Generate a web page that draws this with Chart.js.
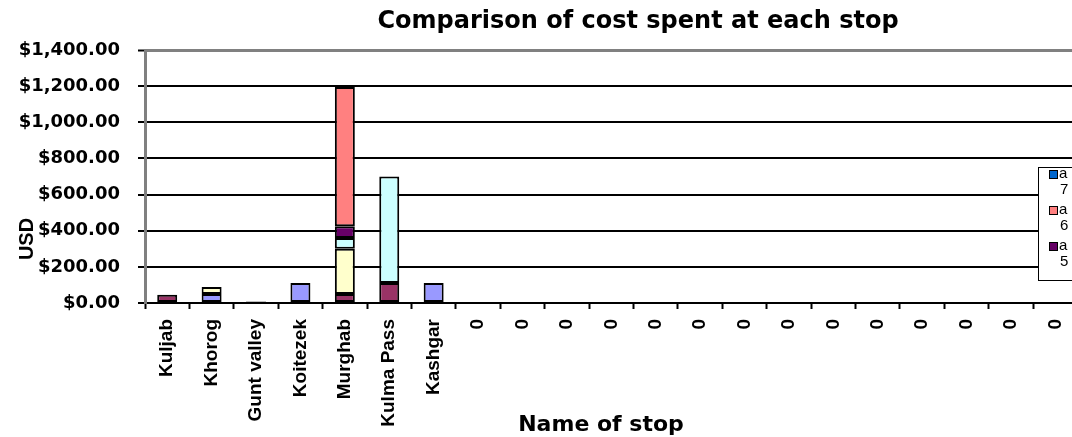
<!DOCTYPE html>
<html>
<head>
<meta charset="utf-8">
<script src="https://cdn.jsdelivr.net/npm/chart.js@4.4.1/dist/chart.umd.min.js"></script>
<style>
  html, body { margin: 0; padding: 0; background: #fff; overflow: hidden; }
  #costChart { display: block; }
</style>
</head>
<body>
<canvas id="costChart" width="1140" height="437"></canvas>
<script>
// Stops on the route; the empty rows of the sheet come through as "0"
const stops = ['Kuljab', 'Khorog', 'Gunt valley', 'Koitezek', 'Murghab', 'Kulma Pass', 'Kashgar',
  '0', '0', '0', '0', '0', '0', '0', '0', '0', '0', '0', '0', '0', '0', '0'];

const n = null;
// cost per category (USD), one array per series, stacked bottom to top
const series1 = [n, 50, n, 110, n, n, 110, n, n, n, n, n, n, n, n, n, n, n, n, n, n, n];
const series2 = [45, n, 8, n, 50, 110, n, n, n, n, n, n, n, n, n, n, n, n, n, n, n, n];
const series3 = [n, 38, n, n, 250, n, n, n, n, n, n, n, n, n, n, n, n, n, n, n, n, n];
const series4 = [n, n, n, n, 60, 590, n, n, n, n, n, n, n, n, n, n, n, n, n, n, n, n];
const series5 = [n, n, n, n, 65, n, n, n, n, n, n, n, n, n, n, n, n, n, n, n, n, n];
const series6 = [n, n, n, n, 770, n, n, n, n, n, n, n, n, n, n, n, n, n, n, n, n, n];
const series7 = [n, n, n, n, n, n, n, n, n, n, n, n, n, n, n, n, n, n, n, n, n, n];

const seriesNames = ['a 1', 'a 2', 'a 3', 'a 4', 'a 5', 'a 6', 'a 7'];
const yTicks = [0, 200, 400, 600, 800, 1000, 1200, 1400];

const chartTitle = 'Comparison of cost spent at each stop';
const xTitle = 'Name of stop';
const yTitle = 'USD';

// classic spreadsheet fill palette
const seriesColors = ['#9999FF', '#993366', '#FFFFCC', '#CCFFFF', '#660066', '#FF8080', '#0066CC'];

const seriesValues = [series1, series2, series3, series4, series5, series6, series7];
const datasets = seriesValues.map((vals, i) => ({
  label: seriesNames[i],
  data: vals,
  backgroundColor: seriesColors[i],
  borderColor: '#000',
  borderWidth: 2,
  borderSkipped: false,
  barPercentage: 0.45,
  categoryPercentage: 1
}));

const money = v => '$' + v.toLocaleString('en-US', { minimumFractionDigits: 2, maximumFractionDigits: 2 });

// titles and the legend box are painted over the plot
const overlay = {
  id: 'overlay',
  afterDraw(chart) {
    const ctx = chart.ctx;
    ctx.save();
    ctx.fillStyle = '#000';
    ctx.textAlign = 'center';
    ctx.textBaseline = 'middle';
    ctx.font = 'bold 24px "DejaVu Sans"';
    ctx.fillText(chartTitle, 638, 22);
    ctx.font = 'bold 22px "DejaVu Sans"';
    ctx.fillText(xTitle, 601, 425);
    ctx.save();
    ctx.translate(27, 239);
    ctx.rotate(-Math.PI / 2);
    ctx.font = 'bold 20px "Liberation Sans"';
    ctx.fillText(yTitle, 0, 0);
    ctx.restore();

    // legend, newest series first; only the rows that fit the box
    const lx = 1038, ly = 167, lw = 90, lh = 113;
    ctx.fillStyle = '#fff';
    ctx.fillRect(lx, ly, lw, lh);
    ctx.strokeStyle = '#000';
    ctx.lineWidth = 1;
    ctx.strokeRect(lx + 0.5, ly + 0.5, lw, lh);
    ctx.textAlign = 'left';
    ctx.font = '15px "Liberation Sans"';
    const rows = chart.data.datasets.slice().reverse().slice(0, 3);
    rows.forEach((ds, i) => {
      const cy = ly + 7 + i * 36;
      ctx.fillStyle = ds.backgroundColor;
      ctx.fillRect(lx + 11, cy - 4, 8, 8);
      ctx.strokeRect(lx + 11.5, cy - 3.5, 8, 8);
      ctx.fillStyle = '#000';
      const parts = ds.label.split(' ');
      ctx.fillText(parts[0], lx + 21, cy);
      ctx.fillText(parts[1], lx + 22, cy + 16);
    });
    ctx.restore();
  }
};

new Chart(document.getElementById('costChart'), {
  type: 'bar',
  data: { labels: stops, datasets: datasets },
  plugins: [overlay],
  options: {
    responsive: false,
    animation: false,
    layout: { padding: { top: 50, right: 18, bottom: 0, left: 0 } },
    plugins: {
      legend: { display: false },
      title: { display: false },
      tooltip: { enabled: false }
    },
    scales: {
      x: {
        stacked: true,
        grid: {
          display: true,
          drawOnChartArea: false,
          offset: true,
          tickLength: 6,
          tickColor: '#000',
          tickWidth: 2
        },
        border: { color: '#000', width: 2 },
        ticks: {
          autoSkip: false,
          minRotation: 90,
          maxRotation: 90,
          padding: 10,
          color: '#000',
          font: { family: 'Liberation Sans', size: 19, weight: 'bold' }
        },
        afterFit(scale) { scale.height = 134; }
      },
      y: {
        stacked: true,
        min: 0,
        max: 1400,
        afterBuildTicks(scale) { scale.ticks = yTicks.map(v => ({ value: v })); },
        grid: {
          color: c => (c.tick && c.tick.value === 1400 ? '#808080' : '#000'),
          lineWidth: c => (c.tick && c.tick.value === 1400 ? 3 : 2),
          tickLength: 7,
          tickColor: '#000',
          tickWidth: 2
        },
        border: { color: '#808080', width: 3 },
        ticks: {
          padding: 18,
          color: '#000',
          font: { family: 'DejaVu Sans', size: 18, weight: 'bold' },
          callback: v => money(v)
        },
        afterFit(scale) { scale.width = 145; }
      }
    }
  }
});
</script>
</body>
</html>
